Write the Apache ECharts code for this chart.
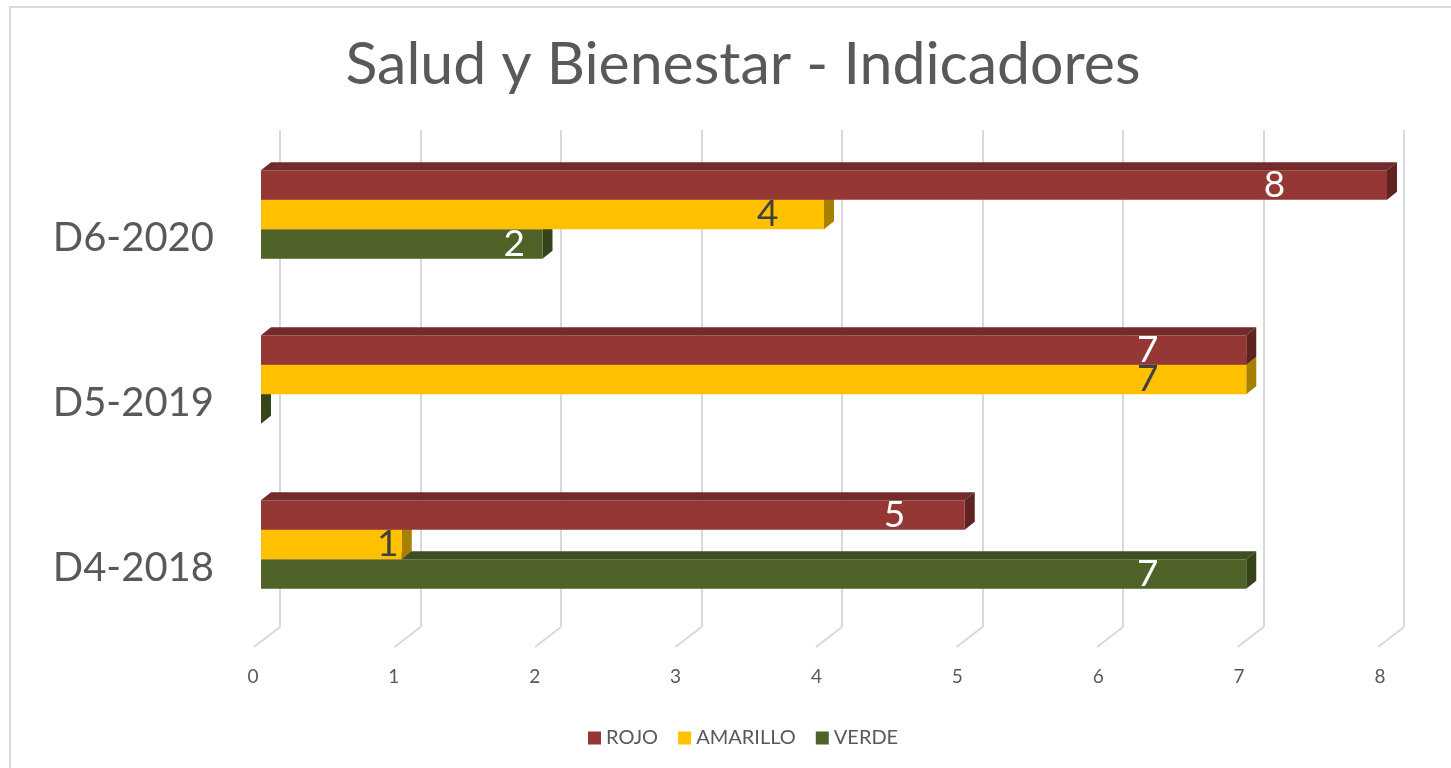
<!DOCTYPE html>
<html>
<head>
<meta charset="utf-8">
<script src="https://cdn.jsdelivr.net/npm/echarts@6/dist/echarts.min.js"></script>
<style>
  html, body { margin: 0; padding: 0; background: #fff; }
  #chart { width: 1451px; height: 768px; }
</style>
</head>
<body>
<div id="chart"></div>
<script>
// data
const categories = ['D4-2018', 'D5-2019', 'D6-2020'];
const seriesNames = ['ROJO', 'AMARILLO', 'VERDE'];
const rojo = [5, 7, 8];
const amarillo = [1, 7, 4];
const verde = [7, 0, 2];
const xTicks = [0, 1, 2, 3, 4, 5, 6, 7, 8];

const palette = {
    ROJO: { front: '#953735', top: '#722b2b', side: '#5f2322', label: '#ffffff' },
    AMARILLO: { front: '#ffc000', top: '#c89600', side: '#a88000', label: '#404040' },
    VERDE: { front: '#4f6228', top: '#3e4d22', side: '#36441a', label: '#ffffff' }
};

const FONT = 'Lato, "Open Sans", sans-serif';
const DX = 10, DY = -8;

function barSeries(name, values, slot, z) {
    const c = palette[name];
    return {
        name: name,
        type: 'custom',
        xAxisIndex: 0,
        yAxisIndex: 0,
        z: z,
        itemStyle: { color: c.front },
        data: values.map((v, i) => [v, i]),
        renderItem: function (params, api) {
            const v = api.value(0);
            const cat = api.value(1);
            const start = api.coord([0, cat]);
            const end = api.coord([v, cat]);
            const band = api.size([0, 1])[1];
            const h = band * 0.179;
            const x0 = start[0], xe = end[0];
            const yt = start[1] - 1.5 * h + slot * h;
            const children = [
                {
                    type: 'polygon',
                    shape: { points: [[x0, yt], [x0 + DX, yt + DY], [xe + DX, yt + DY], [xe, yt]] },
                    style: { fill: c.top }
                },
                {
                    type: 'polygon',
                    shape: { points: [[xe, yt], [xe + DX, yt + DY], [xe + DX, yt + h + DY], [xe, yt + h]] },
                    style: { fill: c.side }
                },
                {
                    type: 'rect',
                    shape: { x: x0, y: yt, width: xe - x0, height: h },
                    style: { fill: c.front }
                }
            ];
            if (v > 0) {
                const lx = api.coord([v * 0.9, cat])[0];
                children.push({
                    type: 'text',
                    style: {
                        x: lx, y: yt + h / 2,
                        text: String(v),
                        fill: c.label,
                        font: '37px ' + FONT,
                        align: 'center',
                        verticalAlign: 'middle'
                    }
                });
            }
            return { type: 'group', children: children };
        }
    };
}

const chart = echarts.init(document.getElementById('chart'), null, { renderer: 'canvas' });

chart.setOption({
    animation: false,
    title: {
        text: 'Salud y Bienestar - Indicadores',
        left: 738,
        textAlign: 'center',
        top: 30,
        textStyle: { fontFamily: FONT, fontSize: 59, fontWeight: 'normal', color: '#595959' }
    },
    graphic: [{
        type: 'rect',
        shape: { x: 10, y: 7, width: 1460, height: 780 },
        style: { fill: 'none', stroke: '#d9d9d9', lineWidth: 2 },
        silent: true
    }],
    legend: {
        data: seriesNames,
        left: 583,
        top: 723,
        icon: 'rect',
        itemWidth: 13,
        itemHeight: 13,
        itemGap: 20,
        textStyle: { fontFamily: FONT, fontSize: 20, color: '#595959' }
    },
    grid: [
        // front plane: bars
        { left: 261, width: 1126, top: 132, height: 495 },
        // back plane: gridlines
        { left: 280, width: 1124, top: 130, height: 497 },
        // tick labels
        { left: 253, width: 1127, top: 130, height: 527 },
        // category labels
        { left: 261, width: 1126, top: 156, height: 495 }
    ],
    xAxis: [
        { gridIndex: 0, type: 'value', min: 0, max: 8, interval: 1, show: false },
        {
            gridIndex: 1, type: 'value', min: 0, max: 8, interval: 1,
            axisLine: { show: false }, axisTick: { show: false }, axisLabel: { show: false },
            splitLine: { show: true, lineStyle: { color: '#d9d9d9', width: 2 } }
        },
        {
            gridIndex: 2, type: 'value', min: 0, max: 8, interval: 1,
            axisLine: { show: false }, axisTick: { show: false }, splitLine: { show: false },
            axisLabel: {
                margin: 10, fontFamily: FONT, fontSize: 19, color: '#595959',
                formatter: (v) => xTicks.includes(v) ? String(v) : ''
            }
        },
        { gridIndex: 3, type: 'value', min: 0, max: 8, show: false }
    ],
    yAxis: [
        { gridIndex: 0, type: 'category', data: categories, show: false },
        { gridIndex: 1, type: 'value', min: 0, max: 1, show: false },
        { gridIndex: 2, type: 'value', min: 0, max: 1, show: false },
        {
            gridIndex: 3, type: 'category', data: categories,
            axisLine: { show: false }, axisTick: { show: false },
            axisLabel: { margin: 47, fontFamily: FONT, fontSize: 40, color: '#595959' }
        }
    ],
    series: [
        barSeries('ROJO', rojo, 0, 6),
        barSeries('AMARILLO', amarillo, 1, 5),
        barSeries('VERDE', verde, 2, 4),
        {
            // floor diagonals under the gridlines
            type: 'custom',
            xAxisIndex: 1,
            yAxisIndex: 1,
            silent: true,
            z: 1,
            data: xTicks.map((t) => [t, 0]),
            renderItem: function (params, api) {
                const p = api.coord([api.value(0), 0]);
                return {
                    type: 'line',
                    shape: { x1: p[0], y1: p[1], x2: p[0] - 26, y2: p[1] + 20 },
                    style: { stroke: '#d9d9d9', lineWidth: 2 }
                };
            }
        }
    ]
});
</script>
</body>
</html>
